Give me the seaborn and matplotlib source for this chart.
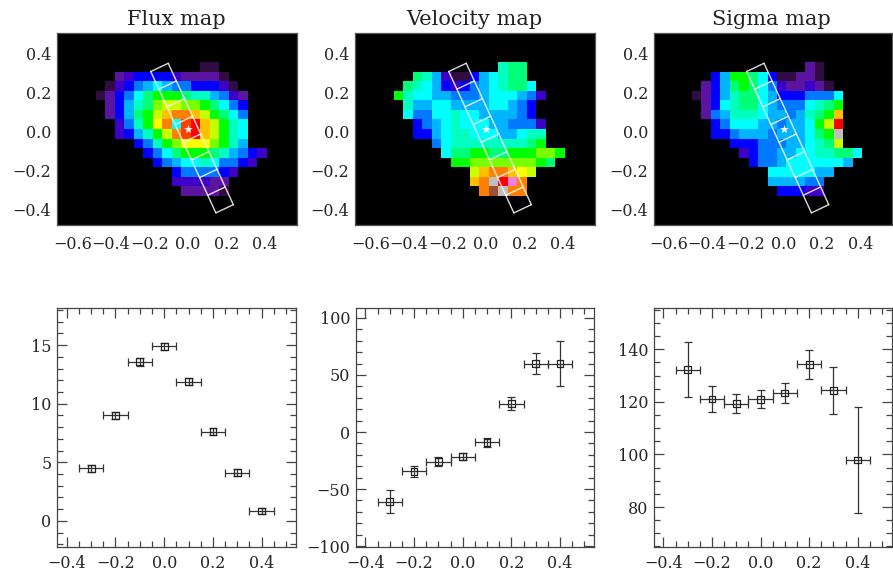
import numpy as np
import pandas as pd
import matplotlib
matplotlib.use("Agg")
import matplotlib.pyplot as plt
from matplotlib.colors import ListedColormap
from matplotlib.ticker import MultipleLocator
import seaborn as sns

sns.set_style("ticks")
plt.rcParams['font.family'] = ['DejaVu Serif']

flux_map = [
 [0,0,0,0,0,0,0,0,0,0,0,1,1,0,0,0,0,0],
 [0,0,2,3,4,4,4,4,3,2,2,2,2,1,0,0,0,0],
 [0,1,3,4,5,6,7,6,5,5,4,4,4,3,1,0,0,0],
 [1,2,4,5,7,9,10,10,10,9,8,8,6,5,3,2,0,0],
 [0,2,4,6,8,9,11,12,12,11,11,10,9,7,5,4,0,0],
 [0,2,4,6,9,10,12,14,15,15,14,12,10,9,7,5,0,0],
 [0,0,3,5,8,10,13,15,7,16,17,14,12,10,8,7,0,0],
 [0,0,3,4,6,8,10,12,15,16,17,14,12,10,8,7,0,0],
 [0,0,0,0,4,5,8,10,11,13,13,13,11,10,8,6,0,0],
 [0,0,0,0,0,4,5,7,9,10,10,10,9,8,6,5,4,3],
 [0,0,0,0,0,0,4,5,6,7,7,8,7,5,5,4,3,0],
 [0,0,0,0,0,0,0,0,4,5,5,5,5,4,3,0,0,0],
 [0,0,0,0,0,0,0,0,3,3,3,3,2,2,0,0,0,0],
 [0,0,0,0,0,0,0,0,0,2,2,2,2,1,0,0,0,0],
]
velocity_map = [
 [0,0,0,0,0,0,0,0,0,0,0,8,9,9,0,0,0,0],
 [0,0,9,8,6,3,1,1,4,6,7,8,9,9,0,0,0,0],
 [0,9,8,7,6,4,3,4,5,6,7,8,9,9,7,0,0,0],
 [10,8,7,7,6,6,5,5,5,6,7,7,7,6,5,3,0,0],
 [0,8,6,6,7,7,6,6,6,6,7,7,6,5,4,0,0,0],
 [0,7,5,5,7,7,8,7,7,6,6,6,6,5,4,0,0,0],
 [0,0,4,5,6,7,8,7,7,7,6,6,5,5,5,3,0,0],
 [0,0,4,4,6,7,8,8,7,7,7,6,6,7,8,8,0,0],
 [0,0,0,0,5,7,8,8,8,8,8,8,8,8,9,10,0,0],
 [0,0,0,0,0,7,9,9,10,10,9,9,10,10,10,11,11,10],
 [0,0,0,0,0,0,10,10,11,11,11,11,11,11,11,10,9,0],
 [0,0,0,0,0,0,0,0,12,14,15,15,14,13,12,0,0,0],
 [0,0,0,0,0,0,0,0,14,15,19,17,18,15,0,0,0,0],
 [0,0,0,0,0,0,0,0,0,15,20,19,15,15,0,0,0,0],
]
sigma_map = [
 [0,0,0,0,0,0,0,0,0,0,0,0,2,1,0,0,0,0],
 [0,0,4,6,10,10,9,7,4,1,1,2,2,1,0,0,0,0],
 [0,2,4,6,9,10,9,7,5,3,2,2,3,2,1,0,0,0],
 [1,2,4,6,8,9,9,7,6,4,4,4,5,5,5,7,0,0],
 [0,2,4,7,8,9,9,7,6,5,5,5,7,8,9,10,0,0],
 [0,2,5,6,8,8,8,7,6,6,5,6,8,9,10,14,0,0],
 [0,0,4,5,7,7,7,6,6,5,6,6,7,10,12,17,0,0],
 [0,0,4,4,5,6,6,6,5,6,6,6,7,9,10,19,0,0],
 [0,0,0,0,4,4,4,5,5,5,6,6,7,8,9,12,0,0],
 [0,0,0,0,0,3,4,5,5,6,6,7,7,8,8,9,9,7],
 [0,0,0,0,0,0,4,5,5,6,7,7,7,7,7,7,6,0],
 [0,0,0,0,0,0,0,0,7,7,7,7,7,6,6,0,0,0],
 [0,0,0,0,0,0,0,0,6,6,6,6,5,5,0,0,0,0],
 [0,0,0,0,0,0,0,0,0,4,4,4,3,3,0,0,0,0],
]
map_colors = ["#000000","#300c42","#5a14a0","#3c00c8","#0000ff","#0078ff","#00b4ff",
              "#00ffff","#00ffc0","#00ff78","#00ff00","#78ff00","#c8ff00","#ffff00",
              "#ffc000","#ff8000","#ff4000","#ff0000","#f080e0","#bebebe","#a05030"]

titles = ["Flux map", "Velocity map", "Sigma map"]

radius = [-0.3, -0.2, -0.1, 0.0, 0.1, 0.2, 0.3, 0.4]
radius_err = [0.05] * 8
flux = [4.5, 9.03, 13.6, 14.9, 11.88, 7.63, 4.1, 0.85]
flux_err = [0.3, 0.3, 0.35, 0.3, 0.3, 0.3, 0.3, 0.25]
velocity = [-61, -34.5, -26, -21.7, -9, 25, 60, 60]
velocity_err = [10, 5, 4, 3, 4, 6, 9.5, 20]
sigma = [132.3, 121.1, 119.3, 121, 123.4, 134.3, 124.4, 97.9]
sigma_err = [10.5, 5, 3.6, 3.4, 3.9, 5.6, 9, 20]

W, H = 893, 574
fig = plt.figure(figsize=(W / 100, H / 100), dpi=100)
fs = 11.5

def axes_px(l, t, r, b):
    return fig.add_axes([l / W, 1 - b / H, (r - l) / W, (b - t) / H])

cmap = ListedColormap(map_colors)
slit_theta = np.deg2rad(25)
slit_edges = np.arange(-0.35, 0.46, 0.1)
slit_half = 0.05
star_y = 0.01

top_boxes = [(57, 297), (355, 595), (653.5, 892)]
maps = [flux_map, velocity_map, sigma_map]
for (l, r), m, title in zip(top_boxes, maps, titles):
    ax = axes_px(l, 33.3, r, 225)
    ax.set_facecolor("black")
    ax.imshow(np.array(m), cmap=cmap, vmin=-0.5, vmax=20.5, interpolation="nearest",
              extent=[-0.479, 0.407, -0.333, 0.352], aspect="auto")
    ax.set_xlim(-0.68, 0.566)
    ax.set_ylim(-0.481, 0.502)
    ax.set_xticks([-0.6, -0.4, -0.2, 0.0, 0.2, 0.4])
    ax.set_yticks([-0.4, -0.2, 0.0, 0.2, 0.4])
    ax.tick_params(axis="x", labelsize=fs, length=0, pad=8)
    ax.tick_params(axis="y", labelsize=fs, length=0, pad=4)
    ux, uy = np.sin(slit_theta), -np.cos(slit_theta)
    vx, vy = np.cos(slit_theta), np.sin(slit_theta)
    ox, oy = 0.0, star_y
    for e in slit_edges:
        ax.plot([ox + e * ux - slit_half * vx, ox + e * ux + slit_half * vx],
                [oy + e * uy - slit_half * vy, oy + e * uy + slit_half * vy],
                color="white", lw=1.0, alpha=0.85)
    for s in (-slit_half, slit_half):
        ax.plot([ox + slit_edges[0] * ux + s * vx, ox + slit_edges[-1] * ux + s * vx],
                [oy + slit_edges[0] * uy + s * vy, oy + slit_edges[-1] * uy + s * vy],
                color="white", lw=1.0, alpha=0.85)
    ax.scatter([0], [star_y], marker="*", s=42, color="white", linewidths=0, zorder=5)
    for sp in ax.spines.values():
        sp.set_linewidth(0.9)
        sp.set_color("#555555")
    fig.text((l + r) / 2 / W - 1 / W, 1 - 25 / H, title,
             ha="center", va="baseline", fontsize=15, color="#222222")

bottom_boxes = [(57, 296), (355.7, 594.3), (653.7, 892)]
series = [(flux, flux_err, (-2.2, 18.15), 5, 1),
          (velocity, velocity_err, (-100.6, 108.5), 50, 10),
          (sigma, sigma_err, (64.9, 155.6), 20, 5)]
for (l, r), (vals, errs, ylim, maj, mnr) in zip(bottom_boxes, series):
    ax = axes_px(l, 308.3, r, 546.7)
    df = pd.DataFrame({"r": radius, "v": vals})
    ax.errorbar(radius, vals, xerr=radius_err, yerr=errs, fmt="none", ecolor="#333333",
                elinewidth=0.9, capsize=3.0, capthick=0.9, zorder=2)
    sns.scatterplot(data=df, x="r", y="v", marker="s", s=24, facecolor="none",
                    edgecolor="#222222", linewidth=0.9, ax=ax, zorder=3, legend=False)
    ax.set_xlim(-0.44, 0.541)
    ax.set_ylim(*ylim)
    ax.set_xlabel("")
    ax.set_ylabel("")
    ax.xaxis.set_major_locator(MultipleLocator(0.2))
    ax.xaxis.set_minor_locator(MultipleLocator(0.05))
    ax.yaxis.set_major_locator(MultipleLocator(maj))
    ax.yaxis.set_minor_locator(MultipleLocator(mnr))
    ax.tick_params(which="major", direction="in", length=7.5, width=0.9, top=True, right=True,
                   labelsize=fs, color="#444444")
    ax.tick_params(axis="x", which="major", pad=6)
    ax.tick_params(axis="y", which="major", pad=4)
    ax.tick_params(which="minor", direction="in", length=4, width=0.9, top=True, right=True,
                   color="#444444")
    for sp in ax.spines.values():
        sp.set_linewidth(0.9)
        sp.set_color("#444444")

fig.savefig("out.png", dpi=100)
